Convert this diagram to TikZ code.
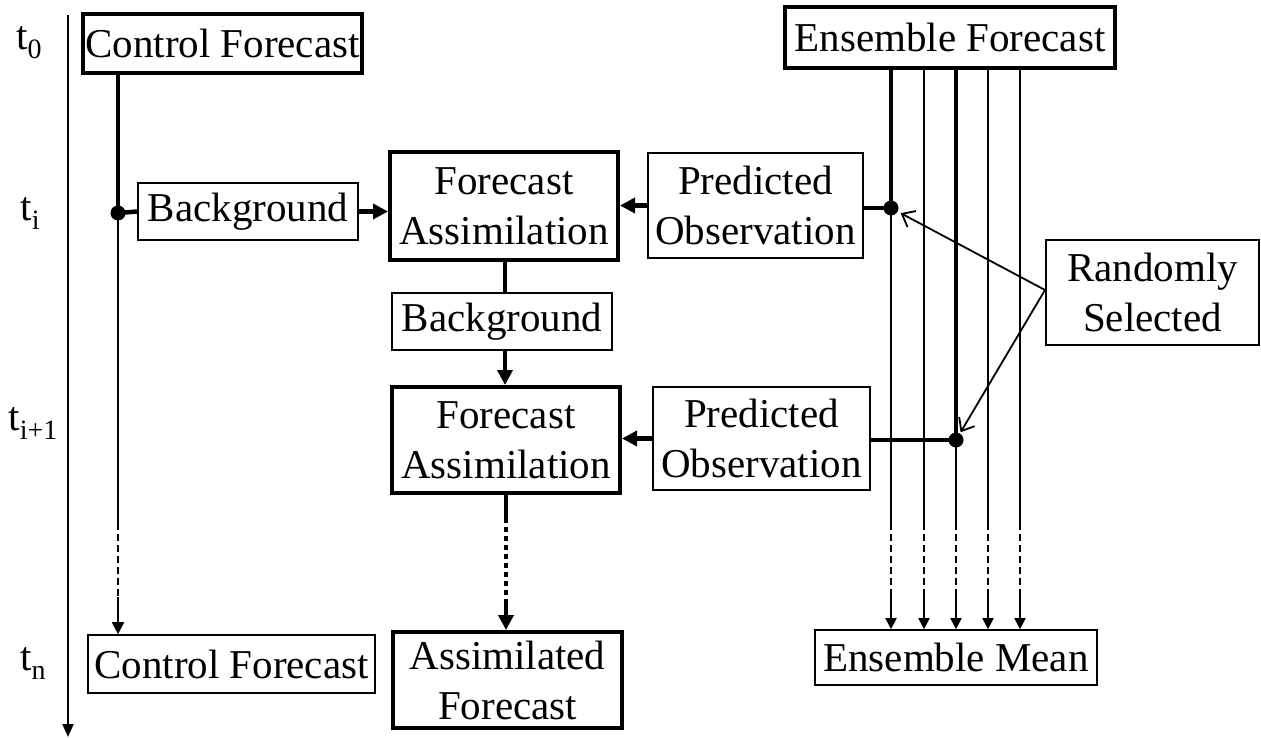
\documentclass[tikz,border=0pt]{standalone}
\usepackage{fontspec}
\setmainfont{Liberation Serif}
\usetikzlibrary{arrows.meta}
\newcommand{\tsub}[1]{t\raisebox{-9pt}{\fontsize{28}{28}\selectfont #1}}
\tikzset{
  base/.style={draw, inner sep=0pt, align=center, font=\fontsize{41}{50}\selectfont},
  thinbox/.style={base, line width=1.6pt},
  thickbox/.style={base, line width=4pt},
  tlabel/.style={inner sep=0pt, font=\fontsize{41}{50}\selectfont},
  thk/.style={line width=4.5pt},
  thn/.style={line width=1.8pt},
  dsh/.style={dash pattern=on 7pt off 4pt},
  dotted thick/.style={line width=4.5pt, dash pattern=on 5pt off 4pt},
  bigtip/.style={-{Triangle[length=15pt,width=15pt]}},
  smalltip/.style={-{Triangle[length=11pt,width=11pt]}},
  opentip/.style={-{Straight Barb[length=11pt,width=18pt,line width=1.8pt]}},
  dotnode/.style={circle, fill, inner sep=0pt, minimum size=15pt}
}
\begin{document}
\begin{tikzpicture}[x=1pt,y=-1pt]
\useasboundingbox (0,0) rectangle (1261,738);

% time labels
\node[tlabel] (t0) at (29,43) {\tsub{0}};
\node[tlabel] (ti) at (30,213) {\tsub{i}};
\node[tlabel] (ti1) at (33,423) {\tsub{i+1}};
\node[tlabel] (tn) at (33,663) {\tsub{n}};
\coordinate (axtop) at (68,15);
\coordinate (axbot) at (68,737);
\draw[line width=2.2pt, -{Triangle[length=13pt,width=11pt]}] (axtop) -- (axbot);

% boxes
\node[thickbox, minimum width=279pt, minimum height=59pt] (cf0) at (222.5,43.5) {Control Forecast};
\node[thinbox, minimum width=220pt, minimum height=57pt] (bg1) at (248,211.5) {Background};
\node[thickbox, minimum width=228pt, minimum height=108pt] (fa1) at (504,206) {Forecast\\Assimilation};
\node[thinbox, minimum width=215pt, minimum height=105pt] (po1) at (755.5,205.5) {Predicted\\Observation};
\node[thinbox, minimum width=220pt, minimum height=57pt] (bg2) at (502,321.5) {Background};
\node[thickbox, minimum width=228pt, minimum height=106pt] (fa2) at (506,440) {Forecast\\Assimilation};
\node[thinbox, minimum width=217pt, minimum height=103pt] (po2) at (761.5,438.5) {Predicted\\Observation};
\node[thinbox, minimum width=287pt, minimum height=58pt] (cfn) at (231.5,664) {Control Forecast};
\node[thickbox, minimum width=229pt, minimum height=96pt] (af) at (507.5,680) {Assimilated\\Forecast};
\node[thickbox, minimum width=330pt, minimum height=61pt] (ef) at (950,37.5) {Ensemble Forecast};
\node[thinbox, minimum width=282pt, minimum height=55pt] (em) at (956,657.5) {Ensemble Mean};
\node[thinbox, minimum width=213pt, minimum height=105pt] (rs) at (1152.5,292.5) {Randomly\\Selected};

% control forecast line
\coordinate (c1) at (118,213);
\coordinate (cA) at (118,523);
\coordinate (cB) at (118,597);
\draw[thk] (c1 |- cf0.south) -- (c1);
\draw[thn] (c1) -- (cA);
\draw[thn, dsh] (cA) -- (cB);
\draw[thn, -{Triangle[length=12pt,width=12pt]}] (cB) -- (cB |- cfn.north);
\node[dotnode] (d1) at (c1) {};
\draw[thk] (c1) -- (bg1.west);
\draw[thk, bigtip] (bg1.east) -- (bg1.east -| fa1.west);

% central chain
\coordinate (mx) at (505,0);
\draw[thk] (mx |- fa1.south) -- (mx |- bg2.north);
\draw[thk, bigtip] (mx |- bg2.south) -- (mx |- fa2.north);
\coordinate (fA) at (506,518);
\coordinate (fB) at (506,600);
\draw[thk] (fa2.south) -- (fA);
\draw[dotted thick] (fA) -- (fB);
\draw[thk, bigtip] (fB) -- (fB |- af.north);

% predicted observations
\coordinate (e1) at (891,208);
\coordinate (e2) at (956,440);
\draw[thk, bigtip] (po1.west) -- (po1.west -| fa1.east);
\draw[thk, bigtip] (po2.west) -- (po2.west -| fa2.east);
\draw[thk] (po1.east |- e1) -- (e1);
\draw[thk] (po2.east |- e2) -- (e2);

% ensemble lines
\foreach \x/\n in {891/a,924/b,956/c,988/d,1020/e}{
  \coordinate (s\n) at (\x,523);
  \coordinate (r\n) at (\x,593);
}
\draw[thk] (e1 |- ef.south) -- (e1);
\draw[thn] (e1) -- (sa);
\draw[thk] (e2 |- ef.south) -- (e2);
\draw[thn] (e2) -- (sc);
\foreach \n in {b,d,e}{
  \draw[thn] (s\n |- ef.south) -- (s\n);
}
\foreach \n in {a,b,c,d,e}{
  \draw[thn, dsh] (s\n) -- (r\n);
  \draw[thn, smalltip] (r\n) -- (r\n |- em.north);
}
\node[dotnode] (d2) at (e1) {};
\node[dotnode] (d3) at (e2) {};

% randomly selected arrows
\coordinate (rsp) at (1045,290);
\draw[thn, opentip, shorten >=11pt] (rsp) -- (d2.center);
\draw[thn, opentip, shorten >=9pt] (rsp) -- (d3.center);
\end{tikzpicture}
\end{document}
